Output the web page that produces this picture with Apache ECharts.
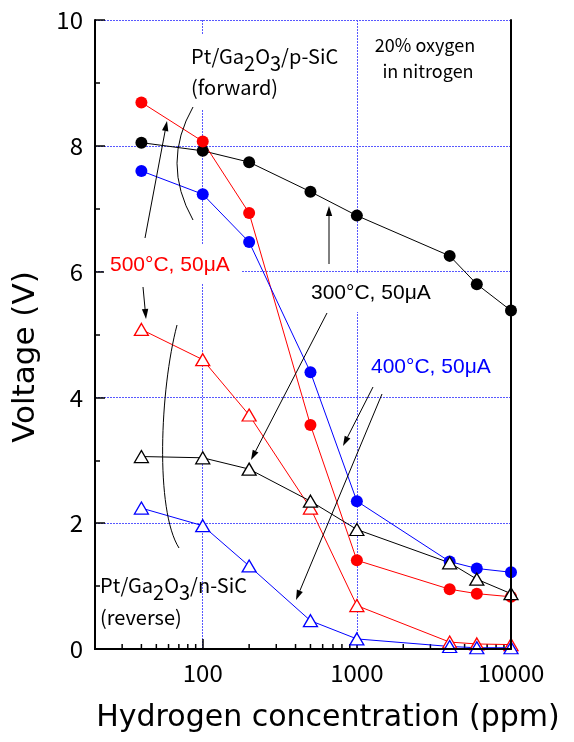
<!DOCTYPE html>
<html><head><meta charset="utf-8">
<script src="https://cdn.jsdelivr.net/npm/echarts/dist/echarts.min.js"></script>
<style>html,body{margin:0;padding:0;background:#fff}#c{width:574px;height:742px}</style>
</head><body><div id="c"></div>
<script>
// ---- data ----
const concentrations = [40, 100, 200, 500, 1000, 4000, 6000, 10000];
const fwd300 = [8.05, 7.92, 7.74, 7.27, 6.89, 6.25, 5.80, 5.38];
const fwd500 = [8.69, 8.07, 6.93, 3.56, 1.41, 0.95, 0.88, 0.83];
const fwd400 = [7.60, 7.23, 6.47, 4.40, 2.35, 1.39, 1.28, 1.22];
const rev500 = [5.08, 4.60, 3.72, 2.24, 0.69, 0.11, 0.08, 0.07];
const rev300 = [3.06, 3.04, 2.86, 2.35, 1.90, 1.37, 1.11, 0.88];
const rev400 = [2.24, 1.96, 1.32, 0.45, 0.16, 0.04, 0.02, 0.02];
const xMajorTicks = [100, 1000, 10000];
const xMinorTicks = [30, 40, 50, 60, 70, 80, 90, 200, 300, 400, 500, 600, 700, 800, 900,
                     2000, 3000, 4000, 5000, 6000, 7000, 8000, 9000];
const xMin = 20, xMax = 10000, yMin = 0, yMax = 10, yStep = 2;

const pairs = vals => concentrations.map((c, i) => [c, vals[i]]);
const RED = '#ff0000', BLUE = '#0000ff', BLACK = '#000000';
const GRIDC = '#5858ff';
const JP = '"Noto Sans CJK JP", "Noto Sans", sans-serif';
const AR = '"Liberation Sans", Arial, sans-serif';
const DV = '"DejaVu Sans", sans-serif';

function filled(vals, c) {
  return { type: 'line', data: pairs(vals), symbol: 'circle', symbolSize: 12,
    itemStyle: { color: c }, lineStyle: { color: c, width: 1 }, z: 3 };
}
function hollow(vals, c) {
  return { type: 'line', data: pairs(vals), symbol: 'triangle', symbolSize: [14, 12],
    itemStyle: { color: '#fff', borderColor: c, borderWidth: 1.3 }, lineStyle: { color: c, width: 1 }, z: 3 };
}
function arrow(x1, y1, x2, y2) {
  const dx = x2 - x1, dy = y2 - y1, L = Math.hypot(dx, dy), ux = dx / L, uy = dy / L;
  const hl = 10, hw = 3.2, bx = x2 - ux * hl, by = y2 - uy * hl;
  return [
    { type: 'line', z: 6, shape: { x1: x1, y1: y1, x2: bx, y2: by }, style: { stroke: '#000', lineWidth: 1 } },
    { type: 'polygon', z: 6, shape: { points: [[x2, y2], [bx - uy * hw, by + ux * hw], [bx + uy * hw, by - ux * hw]] }, style: { fill: '#000' } }
  ];
}
function wrect(x, y, w, h) {
  return { type: 'rect', z: 1, shape: { x: x, y: y, width: w, height: h }, style: { fill: '#fff' } };
}
function txt(x, y, t, font, color, extra) {
  return Object.assign({ type: 'text', z: 5, style: Object.assign({ text: t, x: x, y: y, font: font, fill: color || '#000', align: 'left', verticalAlign: 'middle' }, extra || {}) });
}
const subRich = { n: { font: '20px ' + JP }, s: { font: '20px ' + JP, padding: [14, 0, 0, 0] } };

const chart = echarts.init(document.getElementById('c'), null, { renderer: 'canvas' });
chart.setOption({
  animation: false,
  backgroundColor: '#fff',
  grid: { left: 95, right: 63, top: 20, bottom: 93 },
  xAxis: [{
    type: 'log', min: xMin, max: xMax, logBase: 10,
    axisLine: { lineStyle: { color: '#000', width: 2 } },
    axisTick: { inside: true, length: 10, lineStyle: { color: '#000', width: 1.5 } },
    axisLabel: { margin: 12, color: '#000', fontSize: 24, fontFamily: JP, showMinLabel: false,
      formatter: v => xMajorTicks.includes(Math.round(v)) ? String(Math.round(v)) : '' },
    splitLine: { show: true, lineStyle: { color: GRIDC, width: 1, type: [2, 1] } }
  }, {
    type: 'log', min: xMin, max: xMax, position: 'top', z: 10,
    axisLine: { lineStyle: { color: '#000', width: 2 } },
    axisTick: { show: false }, axisLabel: { show: false }, splitLine: { show: false }
  }],
  yAxis: [{
    type: 'value', min: yMin, max: yMax, interval: yStep,
    axisLine: { show: true, lineStyle: { color: '#000', width: 2 } },
    axisTick: { show: true, inside: true, length: 10, lineStyle: { color: '#000', width: 1.5 } },
    minorTick: { show: true, splitNumber: 2, length: 5, lineStyle: { color: '#000', width: 1.5 } },
    axisLabel: { margin: 12, color: '#000', fontSize: 24, fontFamily: JP },
    splitLine: { show: true, lineStyle: { color: GRIDC, width: 1, type: [2, 1] } }
  }, {
    type: 'value', min: yMin, max: yMax, interval: yStep, position: 'right', z: 10,
    axisLine: { show: true, lineStyle: { color: '#000', width: 2 } },
    axisTick: { show: false }, axisLabel: { show: false }, splitLine: { show: false }
  }],
  series: [
    filled(fwd300, BLACK), filled(fwd500, RED), filled(fwd400, BLUE),
    hollow(rev500, RED), hollow(rev300, BLACK), hollow(rev400, BLUE),
    { type: 'custom', silent: true, z: 2, clip: false,
      data: xMinorTicks.map(v => [v, yMin]),
      encode: { x: 0, y: 1 },
      renderItem: function (params, api) {
        const p = api.coord([api.value(0), api.value(1)]);
        return { type: 'line', shape: { x1: p[0], y1: p[1], x2: p[0], y2: p[1] - 5 },
          style: { stroke: '#000', lineWidth: 1.5 } };
      } }
  ],
  graphic: [].concat(
    [
      wrect(186, 34, 166, 76),
      wrect(370, 32, 110, 70),
      wrect(104, 245, 138, 38),
      wrect(305, 273, 136, 39),
      txt(191, 56, '{n|Pt/Ga}{s|2}{n|O}{s|3}{n|/p-SiC}', '20px ' + JP, '#000', { rich: subRich }),
      txt(191, 87, '(forward)', '20px ' + JP),
      txt(425, 45, '20% oxygen', '18px ' + JP, '#000', { align: 'center' }),
      txt(428, 71, 'in nitrogen', '18px ' + JP, '#000', { align: 'center' }),
      txt(110, 265, '500°C, 50μA', '21px ' + AR, RED),
      txt(311, 293, '300°C, 50μA', '21px ' + AR, BLACK),
      txt(371, 367, '400°C, 50μA', '21px ' + AR, BLUE),
      txt(100, 585, '{n|Pt/Ga}{s|2}{n|O}{s|3}{n|/n-SiC}', '20px ' + JP, '#000', { rich: subRich }),
      txt(100, 617, '(reverse)', '20px ' + JP),
      txt(328, 718, 'Hydrogen concentration (ppm)', '30px ' + DV, '#000', { align: 'center' }),
      { type: 'text', z: 5, x: 26, y: 357, rotation: Math.PI / 2,
        style: { text: 'Voltage (V)', x: 0, y: 0, font: '31px ' + DV, fill: '#000', align: 'center', verticalAlign: 'middle' } },
      { type: 'bezierCurve', z: 6, shape: { x1: 193, y1: 107, x2: 193, y2: 220, cpx1: 161, cpy1: 163 },
        style: { stroke: '#000', lineWidth: 1, fill: null } },
      { type: 'bezierCurve', z: 6, shape: { x1: 177, y1: 325, x2: 179, y2: 548, cpx1: 160, cpy1: 390, cpx2: 155, cpy2: 510 },
        style: { stroke: '#000', lineWidth: 1, fill: null } }
    ],
    arrow(145, 238, 167, 121),
    arrow(143, 287, 146, 319),
    arrow(329, 264, 329, 206),
    arrow(327, 313, 251, 460),
    arrow(373, 387, 343, 446),
    arrow(382, 394, 296, 600)
  )
});
</script></body></html>
